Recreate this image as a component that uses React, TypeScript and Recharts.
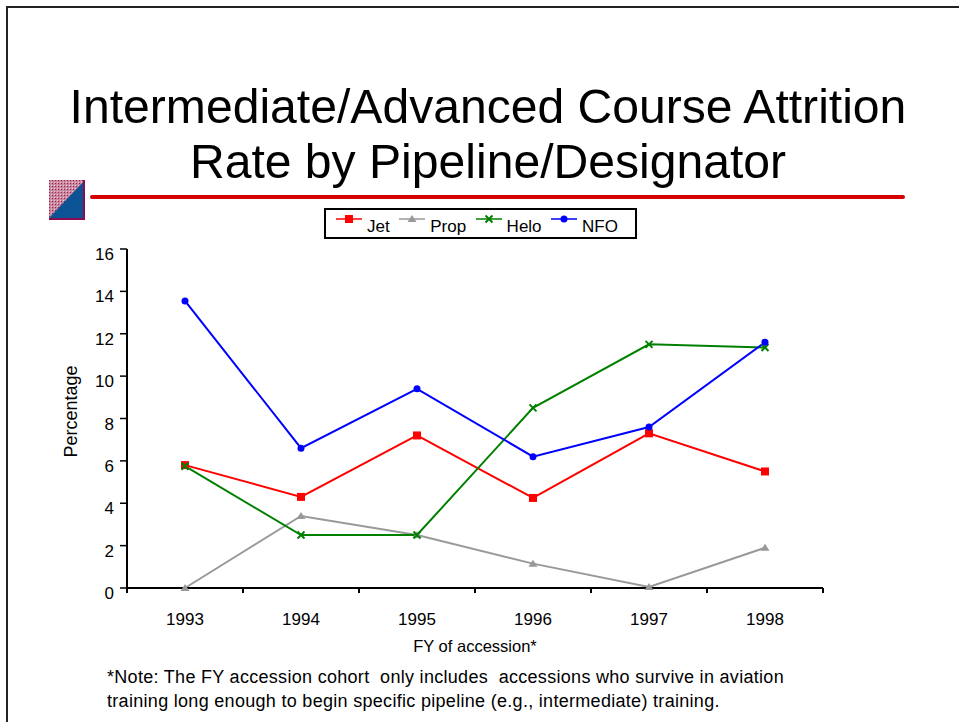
import React from "react";
import { LineChart, Line, XAxis, YAxis, Legend } from "recharts";

const years = ["1993", "1994", "1995", "1996", "1997", "1998"];
const jet = [5.8, 4.3, 7.2, 4.25, 7.3, 5.5];
const prop = [0, 3.4, 2.5, 1.15, 0.05, 1.9];
const helo = [5.75, 2.5, 2.5, 8.5, 11.5, 11.35];
const nfo = [13.55, 6.6, 9.4, 6.2, 7.6, 11.6];
const yTicks = [0, 2, 4, 6, 8, 10, 12, 14, 16];
const boundaryTicks = [0, 1, 2, 3, 4, 5, 6];

const data = years.map((year, i) => ({
  year,
  slot: i,
  Jet: jet[i],
  Prop: prop[i],
  Helo: helo[i],
  NFO: nfo[i],
}));

const FONT = "'Liberation Sans', Arial, sans-serif";

const marker = (name: string, cx: number, cy: number, color: string) => {
  if (name === "Jet") {
    return <rect x={cx - 4} y={cy - 4} width={8} height={8} fill={color} />;
  }
  if (name === "Prop") {
    return (
      <path
        d={`M${cx},${cy - 4}L${cx + 4.5},${cy + 3}L${cx - 4.5},${cy + 3}Z`}
        fill={color}
      />
    );
  }
  if (name === "Helo") {
    return (
      <path
        d={`M${cx - 3.5},${cy - 3.5}L${cx + 3.5},${cy + 3.5}M${cx - 3.5},${cy + 3.5}L${cx + 3.5},${cy - 3.5}`}
        stroke={color}
        strokeWidth={2}
        fill="none"
      />
    );
  }
  return <circle cx={cx} cy={cy} r={3.5} fill={color} />;
};

const seriesDot = (name: string, color: string) => (props: any) => (
  <g key={`${name}-${props.index}`}>{marker(name, props.cx, props.cy, color)}</g>
);

const legendContent = ({ payload }: any) => (
  <div
    style={{
      display: "flex",
      alignItems: "center",
      height: 27,
      paddingLeft: 10,
      border: "2px solid #000",
      background: "#fff",
      fontFamily: FONT,
      fontSize: 17,
      color: "#000",
    }}
  >
    {payload.map((p: any) => (
      <span
        key={p.value}
        style={{ display: "inline-flex", alignItems: "center", marginRight: 9.5 }}
      >
        <svg width={26} height={14} style={{ marginTop: -9, marginRight: 5 }}>
          <line x1={0} x2={26} y1={7} y2={7} stroke={p.color} strokeWidth={1.5} />
          {marker(p.value, 13, 7, p.color)}
        </svg>
        <span style={{ position: "relative", top: 3 }}>{p.value}</span>
      </span>
    ))}
  </div>
);

const tickStyle = { fill: "#000", fontSize: 17, fontFamily: FONT };

export default function App() {
  return (
    <div
      style={{
        position: "absolute",
        left: 0,
        top: 0,
        width: 959,
        height: 722,
        background: "#fff",
        overflow: "hidden",
        fontFamily: FONT,
      }}
    >
      <div style={{ position: "absolute", left: 6, top: 6, width: 953, height: 2, background: "#222" }} />
      <div style={{ position: "absolute", left: 6, top: 6, width: 2, height: 716, background: "#222" }} />
      <div
        style={{
          position: "absolute",
          left: 0,
          width: 976,
          top: 79,
          textAlign: "center",
          fontSize: 48.1,
          lineHeight: "55px",
          color: "#000",
        }}
      >
        Intermediate/Advanced Course Attrition
        <br />
        Rate by Pipeline/Designator
      </div>
      <svg style={{ position: "absolute", left: 49, top: 180 }} width={36} height={40}>
        <defs>
          <pattern id="hatch" width={3} height={3} patternUnits="userSpaceOnUse">
            <rect width={3} height={3} fill="#c9879f" />
            <rect width={1} height={1} fill="#a0204f" />
            <rect x={2} y={2} width={1} height={1} fill="#e8d0da" />
          </pattern>
        </defs>
        <rect width={36} height={40} fill="url(#hatch)" />
        <path d="M36,0L36,38L0,38Z" fill="#0b5394" />
        <path d="M0,39L35,39L35,0" stroke="#8b0a50" strokeWidth={2} fill="none" />
      </svg>
      <div
        style={{
          position: "absolute",
          left: 90,
          top: 195,
          width: 815,
          height: 4,
          borderRadius: 2,
          background: "#d40000",
        }}
      />
      <LineChart
        width={959}
        height={722}
        data={data}
        margin={{ top: 249, right: 136, bottom: 42, left: 0 }}
        style={{ position: "absolute", left: 0, top: 0 }}
      >
        <XAxis
          xAxisId={0}
          dataKey="slot"
          type="number"
          domain={[0, 6]}
          allowDataOverflow
          ticks={boundaryTicks}
          interval={0}
          tickFormatter={() => ""}
          height={1}
          tickSize={5}
          axisLine={{ stroke: "#000", strokeWidth: 2 }}
          tickLine={{ stroke: "#000", strokeWidth: 2 }}
        />
        <XAxis
          xAxisId={1}
          dataKey="year"
          height={60}
          padding={{ left: 58, right: 58 }}
          axisLine={false}
          tickLine={false}
          tickMargin={18}
          tick={tickStyle}
          interval={0}
          label={{ value: "FY of accession*", position: "insideBottom", offset: -3, ...tickStyle, fontSize: 16.5 }}
        />
        <YAxis
          width={127}
          domain={[0, 16]}
          ticks={yTicks}
          interval={0}
          tickSize={7}
          tickMargin={6}
          tick={{ ...tickStyle, dy: 5 }}
          axisLine={{ stroke: "#000", strokeWidth: 2 }}
          tickLine={{ stroke: "#000", strokeWidth: 1.5 }}
          label={{ value: "Percentage", angle: -90, position: "insideLeft", offset: 71, dy: 39, ...tickStyle, fontSize: 18 }}
        />
        <Legend
          layout="horizontal"
          content={legendContent}
          itemSorter={null}
          wrapperStyle={{ position: "absolute", left: 324, top: 208, width: 313, bottom: "auto" }}
        />
        <Line xAxisId={1} dataKey="Jet" stroke="#ff0000" strokeWidth={2} isAnimationActive={false} dot={seriesDot("Jet", "#ff0000")} />
        <Line xAxisId={1} dataKey="Prop" stroke="#999999" strokeWidth={2} isAnimationActive={false} dot={seriesDot("Prop", "#999999")} />
        <Line xAxisId={1} dataKey="Helo" stroke="#008000" strokeWidth={2} isAnimationActive={false} dot={seriesDot("Helo", "#008000")} />
        <Line xAxisId={1} dataKey="NFO" stroke="#0000ff" strokeWidth={2} isAnimationActive={false} dot={seriesDot("NFO", "#0000ff")} />
      </LineChart>
      <div
        style={{
          position: "absolute",
          left: 107,
          top: 665,
          fontSize: 18,
          letterSpacing: 0.3,
          lineHeight: "24px",
          color: "#000",
          whiteSpace: "pre",
        }}
      >
        {"*Note: The FY accession cohort  only includes  accessions who survive in aviation\ntraining long enough to begin specific pipeline (e.g., intermediate) training."}
      </div>
    </div>
  );
}
